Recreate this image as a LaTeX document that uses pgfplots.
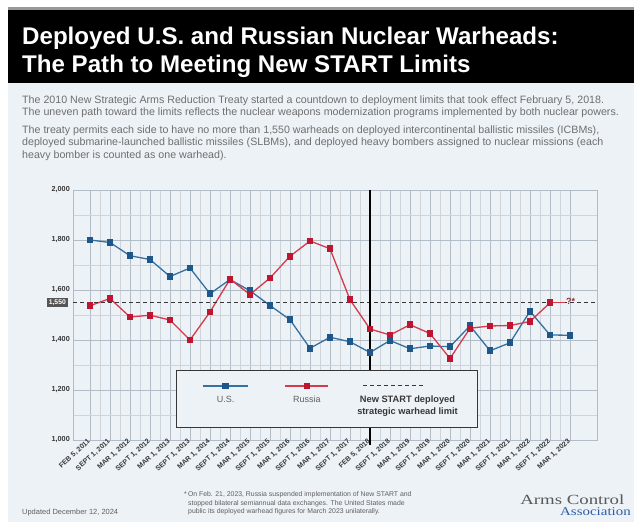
\documentclass[border=0pt]{standalone}
\usepackage{pgfplots}
\pgfplotsset{compat=1.18}
\usepackage{pgfplotstable}
\usepackage{fontspec}
\setmainfont{Liberation Sans}
\newfontfamily\logofont{Liberation Serif}

\definecolor{panel}{RGB}{237,242,247}
\definecolor{usblue}{RGB}{52,112,160}
\definecolor{usmark}{RGB}{30,88,138}
\definecolor{rured}{RGB}{214,58,75}
\definecolor{rumark}{RGB}{190,22,48}
\definecolor{gridmaj}{RGB}{178,188,198}
\definecolor{gridmin}{RGB}{205,212,220}
\definecolor{txtgray}{RGB}{95,95,95}
\definecolor{paratxt}{RGB}{110,110,110}
\definecolor{dkgray}{RGB}{55,55,55}
\definecolor{acablue}{RGB}{45,95,165}

\pgfplotsset{
  uslegend/.style={legend image code/.code={
    \draw[##1, mark repeat=2, mark phase=2] plot coordinates {(0bp,0bp) (22.5bp,0bp) (45bp,0bp)};
    \node[anchor=base, inner sep=0, text=txtgray, font=\fontsize{9}{10}\selectfont] at (22.5bp,-16.5bp) {U.S.};
    \path (-26bp,15bp) (62.5bp,-41bp);
  }},
  rulegend/.style={legend image code/.code={
    \draw[##1, mark repeat=2, mark phase=2] plot coordinates {(0bp,0bp) (21.5bp,0bp) (43bp,0bp)};
    \node[anchor=base, inner sep=0, text=txtgray, font=\fontsize{9}{10}\selectfont] at (21.5bp,-16.5bp) {Russia};
    \path (-17.5bp,0bp) (54.5bp,0bp);
  }},
  limlegend/.style={legend image code/.code={
    \draw[##1] (10bp,0bp) -- (72bp,0bp);
    \node[anchor=base, inner sep=0, align=center, text=dkgray,
      font=\bfseries\fontsize{9.3}{12.5}\selectfont] at (54bp,-29bp) {New START deployed\\strategic warhead limit};
    \path (-11.5bp,0bp) (122bp,0bp);
  }},
}

% deployed warheads, index 0 = Feb 5 2011 ... 24 = Mar 1 2023
\pgfplotstableread{
idx us
0 1800
1 1790
2 1737
3 1722
4 1654
5 1688
6 1585
7 1642
8 1597
9 1538
10 1481
11 1367
12 1411
13 1393
14 1350
15 1398
16 1365
17 1376
18 1373
19 1457
20 1357
21 1389
22 1515
23 1420
24 1419
}\usdata

\pgfplotstableread{
idx ru
0 1537
1 1566
2 1492
3 1499
4 1480
5 1400
6 1512
7 1643
8 1582
9 1648
10 1735
11 1796
12 1765
13 1561
14 1444
15 1420
16 1461
17 1426
18 1326
19 1447
20 1456
21 1458
22 1474
23 1549
}\rudata

\begin{document}
\begin{tikzpicture}[x=1bp,y=1bp]
\fill[white] (0,0) rectangle (634,522);
\fill[panel] (8,0) rectangle (634,439);
\fill[black] (8,439) rectangle (634,512);
\fill[black!40] (8,512) rectangle (634,514.5);

\node[anchor=base west, inner sep=0, text=white, font=\bfseries\fontsize{24.2}{28}\selectfont]
  at (22,477) {Deployed U.S. and Russian Nuclear Warheads:};
\node[anchor=base west, inner sep=0, text=white, font=\bfseries\fontsize{24.2}{28}\selectfont]
  at (22,449) {The Path to Meeting New START Limits};

\begin{scope}[every node/.style={anchor=base west, inner sep=0, text=paratxt, font=\fontsize{10.7}{12}\selectfont}]
\node at (22,418.5) {The 2010 New Strategic Arms Reduction Treaty started a countdown to deployment limits that took effect February 5, 2018.};
\node at (22,406) {The uneven path toward the limits reflects the nuclear weapons modernization programs implemented by both nuclear powers.};
\node at (22,388.5) {The treaty permits each side to have no more than 1,550 warheads on deployed intercontinental ballistic missiles (ICBMs),};
\node at (22,376) {deployed submarine-launched ballistic missiles (SLBMs), and deployed heavy bombers assigned to nuclear missions (each};
\node at (22,363.5) {heavy bomber is counted as one warhead).};
\end{scope}

\begin{axis}[
  at={(73bp,82bp)}, anchor=south west,
  scale only axis, width=524bp, height=250bp,
  xmin=-0.85, xmax=25.35, ymin=1000, ymax=2000,
  xtick={0,...,24},
  xticklabels={{FEB 5, 2011},{SEPT 1, 2011},{MAR 1, 2012},{SEPT 1, 2012},{MAR 1, 2013},
    {SEPT 1, 2013},{MAR 1, 2014},{SEPT 1, 2014},{MAR 1, 2015},{SEPT 1, 2015},
    {MAR 1, 2016},{SEPT 1, 2016},{MAR 1, 2017},{SEPT 1, 2017},{FEB 5, 2018},
    {SEPT 1, 2018},{MAR 1, 2019},{SEPT 1, 2019},{MAR 1, 2020},{SEPT 1, 2020},
    {MAR 1, 2021},{SEPT 1, 2021},{MAR 1, 2022},{SEPT 1, 2022},{MAR 1, 2023}},
  ytick={1000,1200,...,2000},
  yticklabels={{1,000},{1,200},{1,400},{1,600},{1,800},{2,000}},
  minor x tick num=1, minor y tick num=1,
  grid=both,
  major grid style={gridmaj, line width=0.6bp},
  minor grid style={gridmin, line width=0.5bp},
  axis line style={gridmaj, line width=0.6bp},
  major tick length=0pt, minor tick length=0pt,
  clip=false,
  xticklabel style={rotate=42, anchor=east, inner sep=1bp, text=dkgray,
    font=\bfseries\fontsize{7}{8}\selectfont},
  yticklabel style={text=dkgray, inner xsep=3bp, font=\bfseries\fontsize{7.3}{8}\selectfont},
  legend columns=3,
  legend style={at={(rel axis cs:0.1966,0.048)}, anchor=south west,
    draw=dkgray, line width=0.8bp, fill=panel, inner sep=0pt,
    nodes={inner sep=0pt}},
]

\addplot[usblue, line width=1.3bp, mark=square*, mark size=2.7bp,
  mark options={fill=usmark, draw=usmark}, uslegend] table[x=idx, y=us] {\usdata};
\addlegendentry{\relax}

\addplot[rured, line width=1.3bp, mark=square*, mark size=2.7bp,
  mark options={fill=rumark, draw=rumark}, rulegend] table[x=idx, y=ru] {\rudata};
\addlegendentry{\relax}

\addplot[dkgray, line width=0.9bp, dash pattern=on 4bp off 3bp, limlegend]
  coordinates {(-0.85,1550) (25.35,1550)};
\addlegendentry{\relax}

\addplot[rured, line width=1.3bp, forget plot] coordinates {(23,1549) (23.75,1549)};
\addplot[black, line width=1.4bp, forget plot] coordinates {(14,980) (14,2000)};

\node[anchor=west, inner sep=0, text=rured!70!black, font=\bfseries\fontsize{9}{10}\selectfont]
  at (axis cs:23.8,1553) {?*};
\node[anchor=east, fill=dkgray!85, text=white, inner xsep=2bp, inner ysep=1.5bp,
  font=\bfseries\fontsize{6.8}{7}\selectfont] at (axis cs:-0.85,1550) [xshift=-5bp] {1,550};
\end{axis}

\node[anchor=base west, inner sep=0, text=txtgray, font=\fontsize{7.5}{8}\selectfont]
  at (22,7) {Updated December 12, 2024};
\begin{scope}[every node/.style={anchor=base west, inner sep=0, text=txtgray, font=\fontsize{6.9}{7}\selectfont}]
\node at (184,25) {{\color{acablue}*}\,On Feb. 21, 2023, Russia suspended implementation of New START and};
\node at (188,16.5) {stopped bilateral semiannual data exchanges. The United States made};
\node at (188,8) {public its deployed warhead figures for March 2023 unilaterally.};
\end{scope}
\node[anchor=base west, inner sep=0, text=black!65, xscale=1.35, font=\logofont\fontsize{14}{15}\selectfont]
  at (520,17) {Arms Control};
\node[anchor=base east, inner sep=0, text=acablue, xscale=1.25, font=\logofont\fontsize{12}{13}\selectfont]
  at (631,6) {Association};

\pgfresetboundingbox
\path[use as bounding box] (0,0) rectangle (634,522);
\end{tikzpicture}
\end{document}
